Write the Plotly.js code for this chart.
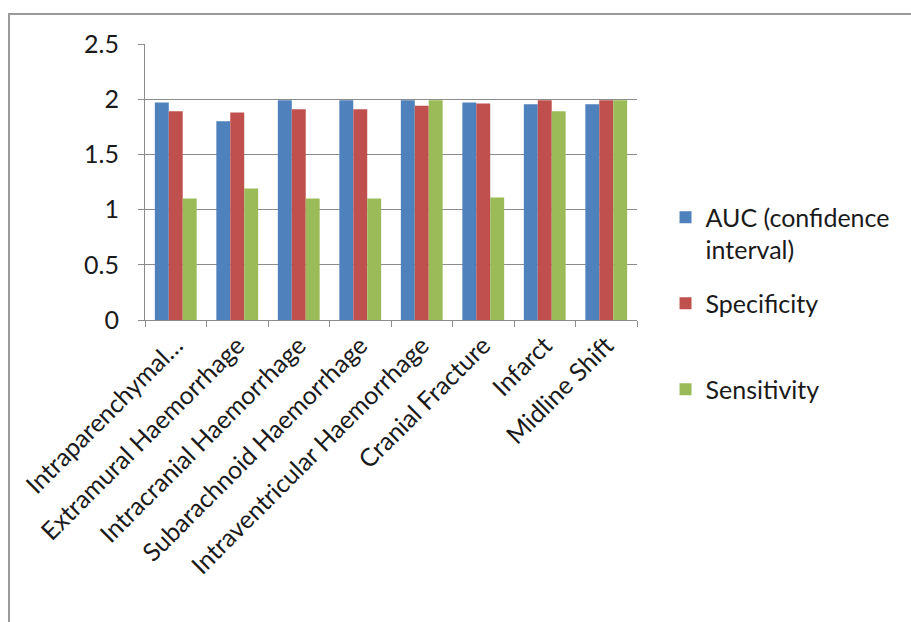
<!DOCTYPE html>
<html>
<head>
<meta charset="utf-8">
<script src="https://cdn.plot.ly/plotly-3.0.1.min.js"></script>
<style>
  html, body { margin: 0; padding: 0; background: #ffffff; }
  #chart { width: 911px; height: 622px; }
</style>
</head>
<body>
<div id="chart"></div>
<script>
const categories = [
  "Intraparenchymal Haemorrhage",
  "Extramural Haemorrhage",
  "Intracranial Haemorrhage",
  "Subarachnoid Haemorrhage",
  "Intraventricular Haemorrhage",
  "Cranial Fracture",
  "Infarct",
  "Midline Shift"
];
const tickLabels = [
  "Intraparenchymal…",
  "Extramural Haemorrhage",
  "Intracranial Haemorrhage",
  "Subarachnoid Haemorrhage",
  "Intraventricular Haemorrhage",
  "Cranial Fracture",
  "Infarct",
  "Midline Shift"
];
const seriesNames = ["AUC (confidence<br>interval)", "Specificity<br> ", "Sensitivity<br> "];
const auc         = [1.97, 1.80, 1.99, 1.99, 1.99, 1.97, 1.955, 1.955];
const specificity = [1.89, 1.88, 1.91, 1.91, 1.94, 1.96, 1.99, 1.99];
const sensitivity = [1.10, 1.19, 1.10, 1.10, 1.99, 1.11, 1.89, 1.99];
const yTicks = [0, 0.5, 1, 1.5, 2, 2.5];
const yTickLabels = ["0", "0.5", "1", "1.5", "2", "2.5"];

const colors = ["#4F81BD", "#C0504D", "#9BBB59"];
const values = [auc, specificity, sensitivity];

const FONT = "Lato, 'Open Sans', sans-serif";

const traces = values.map((v, i) => ({
  type: "bar",
  name: seriesNames[i],
  x: categories,
  y: v,
  marker: { color: colors[i], line: { width: 0 } },
  legendgroup: "g" + i,
  hoverinfo: "x+y"
}));

const layout = {
  width: 911,
  height: 622,
  paper_bgcolor: "#ffffff",
  plot_bgcolor: "#ffffff",
  margin: { l: 145, r: 274, t: 44, b: 302, pad: 0 },
  barmode: "group",
  bargap: 0.32,
  bargroupgap: 0,
  showlegend: true,
  font: { family: FONT, size: 25, color: "#1a1a1a" },
  legend: {
    x: 1.058,
    xanchor: "left",
    y: 0.455,
    yanchor: "top",
    font: { family: FONT, size: 25, color: "#1a1a1a" },
    valign: "top",
    traceorder: "grouped",
    tracegroupgap: 18,
    itemwidth: 30,
    bgcolor: "rgba(0,0,0,0)"
  },
  xaxis: {
    type: "category",
    tickmode: "array",
    tickvals: categories,
    ticktext: tickLabels,
    tickangle: -45,
    tickson: "boundaries",
    ticks: "outside",
    ticklen: 6,
    tickcolor: "#8c8c8c",
    showline: true,
    linecolor: "#8c8c8c",
    linewidth: 1,
    showgrid: false,
    zeroline: false,
    tickfont: { family: FONT, size: 25, color: "#1a1a1a" },
    automargin: false
  },
  yaxis: {
    range: [0, 2.5],
    tickmode: "array",
    tickvals: yTicks,
    ticktext: yTickLabels,
    ticks: "outside",
    ticklen: 6,
    tickcolor: "#8c8c8c",
    showline: true,
    linecolor: "#8c8c8c",
    linewidth: 1,
    showgrid: true,
    gridcolor: "#8c8c8c",
    gridwidth: 1,
    zeroline: false,
    ticklabelstandoff: 14,
    tickfont: { family: FONT, size: 25, color: "#1a1a1a" },
    automargin: false
  },
  shapes: [{
    type: "rect",
    xref: "paper", yref: "paper",
    x0: (9 - 145) / 492, x1: 2,
    y0: -2, y1: (320 - 14) / 276,
    line: { color: "#9a9a9a", width: 2 },
    fillcolor: "rgba(0,0,0,0)",
    layer: "below"
  }]
};

Plotly.newPlot("chart", traces, layout, { displayModeBar: false, staticPlot: true });
</script>
</body>
</html>
